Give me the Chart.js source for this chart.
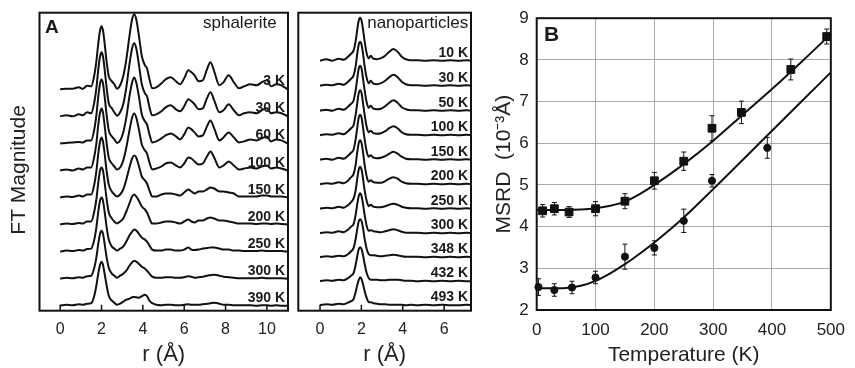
<!DOCTYPE html>
<html>
<head>
<meta charset="utf-8">
<script src="https://cdn.jsdelivr.net/npm/chart.js@4.4.1/dist/chart.umd.min.js"></script>
<style>
  html, body { margin: 0; padding: 0; background: #fff; }
  #fig { position: relative; width: 855px; height: 368px; overflow: hidden; }
  #fig canvas { position: absolute; top: 0; }
</style>
</head>
<body>
<div id="fig">
  <canvas id="ft-sph" width="293" height="368" style="left:0"></canvas>
  <canvas id="ft-nano" width="180" height="368" style="left:293px"></canvas>
  <canvas id="msrd" width="382" height="368" style="left:473px"></canvas>
</div>
<script>
/* FT magnitudes (stacked, arbitrary units) and MSRD vs temperature */

const FONT = '"Liberation Sans", Arial, Helvetica, sans-serif';

// ---- Panel A, sphalerite ------------------------------------------------
const R_SPH = [0, 0.3, 0.6, 0.9, 1.1, 1.3, 1.5, 1.65, 1.75, 1.85,
  1.93, 2.0, 2.07, 2.15, 2.25, 2.35, 2.5, 2.62, 2.75, 2.9,
  3.05, 3.2, 3.35, 3.48, 3.58, 3.68, 3.8, 3.95, 4.1, 4.2,
  4.32, 4.45, 4.65, 4.9, 5.1, 5.35, 5.6, 5.8, 6.0, 6.2,
  6.35, 6.5, 6.7, 6.9, 7.1, 7.27, 7.45, 7.7, 7.9, 8.15,
  8.4, 8.65, 8.9, 9.2, 9.5, 9.75, 10.0, 10.2, 10.45, 10.7, 11.0];
const SPH_LABELS  = ['3 K', '30 K', '60 K', '100 K', '150 K', '200 K', '250 K', '300 K', '390 K'];
const SPH_OFFSETS = [221.4, 194.4, 167.3, 140.2, 113.2, 86.2, 59.1, 32, 5];

const S_3K = [0, 0.5, 0.5, 2, 0.5, 3.5, 3, 14, 28, 47,
  59, 63, 59, 46, 27, 13, 8, 5, 0.5, 4,
  13, 30, 53, 70, 75, 70, 55, 33, 24, 21,
  10, 1, 2, 6, 10, 12, 8, 5, 11, 19,
  17, 14, 8, 9, 20, 27, 18, 4, 7, 14,
  7, 1, 3, 5, 4, 7, 9, 3, 5, 4, 0];
const S_30K = [0, 1, 0, 2, 1, 4, 3, 14, 28, 48,
  60, 64, 60, 47, 28, 13, 8, 4, 0.5, 4,
  12, 29, 52, 68, 73, 68, 53, 32, 23, 20,
  9, 1, 2, 5, 9, 11, 7, 5, 10, 17,
  15, 12, 7, 8, 18, 24, 16, 4, 6, 12,
  6, 1, 3, 4, 3, 6, 8, 3, 4, 3, 0];
const S_60K = [0, 0.5, 1, 1.5, 1, 3, 3, 14, 28, 48,
  60, 64, 60, 47, 28, 13, 7, 4, 0.5, 3,
  11, 26, 47, 61, 66, 61, 48, 29, 22, 19,
  9, 1, 2, 5, 8, 10, 7, 4, 9, 16,
  14, 11, 7, 8, 17, 23, 15, 3, 6, 11,
  6, 1, 2, 4, 3, 5, 7, 2, 4, 3, 0];
const S_100K = [0, 1, 0, 2, 1, 3, 3, 14, 27, 47,
  58, 62, 58, 45, 27, 13, 7, 4, 1, 3,
  10, 23, 40, 53, 57, 53, 42, 26, 20, 17,
  8, 1, 2, 4, 7, 8, 5, 3, 7, 13,
  12, 9, 6, 7, 14, 19, 13, 3, 5, 9,
  5, 1, 2, 3, 2, 4, 5, 2, 3, 2, 0];
const S_150K = [0, 1, 0.5, 2, 1, 3, 3, 13, 26, 45,
  56, 60, 56, 44, 26, 13, 6, 3, 1, 3,
  8, 18, 30, 39, 42, 40, 32, 21, 17, 14,
  7, 1, 1, 3, 4, 4, 3, 2, 5, 8,
  6, 4, 6, 6, 8, 10, 9, 6, 6, 5,
  4, 1, 1, 1, 1, 2, 2, 1, 1, 1, 0];
const S_200K = [0, 1, 0.5, 1.5, 1, 3, 3, 13, 25, 43,
  54, 57, 54, 42, 25, 12, 6, 3, 1, 3,
  6, 13, 21, 28, 30, 28, 24, 18, 15, 12,
  6, 1, 1, 2, 3, 3, 2, 1, 3, 5,
  3, 2, 4, 4, 6, 7, 6, 4, 4, 3,
  2, 1, 1, 1, 0.5, 1, 1, 0.5, 1, 0.5, 0];
const S_250K = [0, 1, 0.5, 1.5, 1, 2.5, 3, 12, 24, 41,
  51, 54, 51, 40, 24, 12, 5, 3, 1, 3,
  5, 10, 16, 20, 22, 21, 18, 14, 12, 10,
  6, 2, 1, 1, 2, 2, 1, 1, 2, 4,
  2, 1.5, 2, 3, 3.5, 4, 4, 3, 2, 2,
  1, 1, 0.5, 0.5, 0.5, 1, 0.5, 0.5, 0.5, 0.5, 0];
const S_300K = [0, 1, 0.5, 1.5, 1, 2.5, 3, 11, 21, 36,
  45, 48, 45, 35, 21, 11, 5, 3, 1, 3,
  5, 8, 13, 16.5, 18, 17, 15, 12, 10, 8,
  5, 2, 1, 1, 1.5, 1.5, 1, 1, 1.5, 2.5,
  2, 1, 1.5, 2, 3, 3.5, 4, 3, 2, 1.5,
  1, 0.5, 0.5, 0.5, 0.5, 1, 0.5, 0.5, 0.5, 0.5, 0];
const S_390K = [0, 1, 0.5, 1.5, 1, 2, 2.5, 10, 20, 33,
  41, 44, 41, 32, 20, 10, 5, 3, 1, 2,
  4, 6, 7, 8.5, 8.7, 8.5, 8, 9.5, 11, 9.5,
  5, 2.5, 1, 0.5, 1, 1, 0.5, 0.5, 1, 1.5,
  1, 1, 1, 1.5, 2, 2.5, 3, 2, 1, 1,
  0.5, 0.5, 0.5, 0.5, 0, 0.5, 0.5, 0, 0.5, 0, 0];
const SPH_CURVES = [S_3K, S_30K, S_60K, S_100K, S_150K, S_200K, S_250K, S_300K, S_390K];

// ---- Panel A, nanoparticles ---------------------------------------------
const R_NANO = [0, 0.3, 0.6, 0.9, 1.15, 1.35, 1.5, 1.62, 1.72, 1.8,
  1.87, 1.94, 2.01, 2.08, 2.16, 2.26, 2.36, 2.45, 2.58, 2.75,
  2.95, 3.15, 3.35, 3.55, 3.75, 3.95, 4.15, 4.4, 4.7, 5.1,
  5.5, 5.9, 6.3, 6.7, 7.1, 7.3];
const NANO_LABELS  = ['10 K', '30 K', '50 K', '100 K', '150 K', '200 K', '250 K', '300 K', '348 K', '432 K', '493 K'];
const NANO_OFFSETS = [250, 225, 200, 175.5, 151, 126.5, 102, 77.5, 53.5, 29.5, 5.5];

const N_10K = [0, 1.5, 0, 2, 1, 4, 7, 10, 19, 31,
  40, 43, 40, 31, 19, 7, 2.5, 5, 2, 1.5,
  2.5, 5, 9, 11.7, 9, 4, 1.5, 0.5, 0.5, 0,
  0.5, 0, 0.5, 0, 0.5, 0];
const N_30K = [0, 1, 0.5, 2, 1, 4, 7, 10, 19, 32,
  41, 44, 41, 32, 19, 7.5, 2.5, 5, 2, 1.5,
  2.5, 5, 8.5, 11, 8.5, 4, 1.5, 0.5, 0.5, 0,
  0.5, 0, 0.5, 0, 0.5, 0];
const N_50K = [0, 1, 0, 2, 1, 4, 7, 10, 20, 32,
  42, 45, 42, 32, 20, 8, 3, 5, 2, 1.5,
  2, 4.5, 8, 10.5, 8, 3.5, 1.5, 0.5, 0.5, 0,
  0.5, 0, 0.5, 0, 0.5, 0];
const N_100K = [0, 1, 0.5, 2, 1, 4, 7, 10, 20, 32,
  42, 45, 42, 32, 20, 8, 3, 4.5, 2, 1.5,
  2, 4, 7, 9, 7, 3, 1, 0.5, 0.5, 0,
  0.5, 0, 0.5, 0, 0.5, 0];
const N_150K = [0, 1, 0, 2, 1, 4, 7, 10, 20, 32,
  42, 45, 42, 32, 20, 8, 3, 4.5, 2, 1.5,
  2, 3.5, 6, 8, 6, 3, 1, 0.5, 0.5, 0,
  0.5, 0, 0.5, 0, 0.5, 0];
const N_200K = [0, 1, 0.5, 2, 1, 3.5, 7, 10, 19, 32,
  41, 44, 41, 32, 19, 7.5, 2.5, 4, 2, 1.5,
  1.5, 3, 5.5, 7, 5.5, 2.5, 1, 0.5, 0.5, 0,
  0.5, 0, 0.5, 0, 0.5, 0];
const N_250K = [0, 1, 0.5, 2, 1, 3.5, 6.5, 10, 18, 30,
  39, 42, 39, 30, 18, 7.5, 2.5, 4, 2, 1.5,
  1.5, 2.5, 4, 5, 4, 2, 1, 0.5, 0.5, 0,
  0.5, 0, 0.5, 0, 0.5, 0];
const N_300K = [0, 1, 0.5, 2, 1, 3.5, 6.5, 9, 18, 29,
  37, 40, 37, 29, 18, 7, 2.5, 3, 2, 1.5,
  1, 2, 3, 4, 3, 1.5, 0.5, 0.5, 0.5, 0,
  0.5, 0, 0.5, 0, 0.5, 0];
const N_348K = [0, 1, 0.5, 1.5, 1, 3, 6, 9, 18, 28,
  36, 38, 36, 29, 18, 8, 3, 2, 2, 1.5,
  1, 1.5, 2, 2.5, 2, 1, 0.5, 0.5, 0.5, 0,
  0.5, 0, 0.5, 0, 0.5, 0];
const N_432K = [0, 1, 0.5, 1.5, 1, 3, 5.5, 8, 16, 25,
  32, 34, 32, 26, 17, 8, 3, 1.5, 1.5, 1.5,
  1, 1, 1.5, 1.5, 1.5, 1, 0.5, 0.5, 0, 0.5,
  0, 0.5, 0, 0.5, 0, 0];
const N_493K = [0, 1, 0.5, 1.5, 1, 2.5, 4, 6, 13, 20,
  25, 28, 26, 21, 14, 7, 3, 3, 2, 1.5,
  1, 1, 0.5, 0.5, 0.5, 0.5, 0, 0.5, 0, 0.5,
  0, 0.5, 0, 0, 0.5, 0];
const NANO_CURVES = [N_10K, N_30K, N_50K, N_100K, N_150K, N_200K, N_250K, N_300K, N_348K, N_432K, N_493K];

const R_TICKS_SPH  = [0, 2, 4, 6, 8, 10];
const R_TICKS_NANO = [0, 2, 4, 6];

// ---- Panel B, MSRD ------------------------------------------------------
const SQ_T   = [10, 30, 55, 100, 150, 200, 250, 298, 348, 432, 493];
const SQ_MSRD = [4.38, 4.43, 4.35, 4.43, 4.61, 5.10, 5.57, 6.36, 6.74, 7.77, 8.56];
const SQ_ERR = [0.15, 0.15, 0.13, 0.17, 0.18, 0.2, 0.22, 0.3, 0.27, 0.25, 0.18];
const CI_T   = [3, 30, 60, 100, 150, 200, 250, 298, 392];
const CI_MSRD = [2.55, 2.48, 2.54, 2.78, 3.28, 3.49, 4.14, 5.10, 5.89];
const CI_ERR = [0.2, 0.15, 0.15, 0.15, 0.3, 0.17, 0.28, 0.15, 0.25];
const FIT_T  = [0, 25, 50, 75, 100, 125, 150, 175, 200, 250, 300, 350, 400, 450, 500];
const FIT_SQ = [4.4, 4.4, 4.4, 4.41, 4.44, 4.5, 4.6, 4.78, 5.0, 5.5, 6.06, 6.68, 7.3, 7.95, 8.62];
const FIT_CI = [2.52, 2.52, 2.53, 2.58, 2.7, 2.88, 3.1, 3.35, 3.62, 4.22, 4.9, 5.6, 6.3, 7.0, 7.7];

Chart.defaults.font.family = FONT;
Chart.defaults.color = '#222';

// frame round the plot area, optional inward ticks on the bottom axis
const framePlugin = {
  id: 'frame',
  afterDatasetsDraw(chart, args, o) {
    const { ctx, chartArea: a } = chart;
    ctx.save();
    ctx.strokeStyle = '#111';
    ctx.lineWidth = 2;
    ctx.strokeRect(a.left, a.top, a.right - a.left, a.bottom - a.top);
    if (o.tickLen) {
      const xs = chart.scales.x;
      ctx.lineWidth = 1.5;
      ctx.beginPath();
      xs.ticks.forEach(t => {
        const px = xs.getPixelForValue(t.value);
        ctx.moveTo(px, a.bottom);
        ctx.lineTo(px, a.bottom - o.tickLen);
      });
      ctx.stroke();
    }
    ctx.restore();
  }
};

// temperature labels over each trace + panel letter / name
const panelText = {
  id: 'panelText',
  afterDatasetsDraw(chart, args, o) {
    const { ctx, chartArea: a } = chart;
    const ys = chart.scales.y;
    ctx.save();
    ctx.fillStyle = '#1a1a1a';
    ctx.textBaseline = 'alphabetic';
    ctx.textAlign = 'right';
    ctx.font = 'bold 14px ' + FONT;
    (o.labels || []).forEach((t, i) => {
      ctx.fillText(t, a.right - o.labelInset, ys.getPixelForValue(o.offsets[i]) - 4);
    });
    if (o.name) {
      ctx.font = '17px ' + FONT;
      ctx.fillText(o.name, a.right - o.nameInset, a.top + 15);
    }
    if (o.letter) {
      ctx.textAlign = 'left';
      ctx.font = 'bold ' + o.letterSize + 'px ' + FONT;
      ctx.fillText(o.letter, a.left + o.letterDx, a.top + o.letterDy);
    }
    ctx.restore();
  }
};

const errorBars = {
  id: 'errorBars',
  beforeDatasetsDraw(chart) {
    const { ctx } = chart;
    const { x, y } = chart.scales;
    ctx.save();
    ctx.strokeStyle = '#111';
    ctx.lineWidth = 1;
    chart.data.datasets.forEach(ds => {
      if (!ds.errors) return;
      ds.data.forEach((p, i) => {
        const px = x.getPixelForValue(p.x);
        const hi = y.getPixelForValue(p.y + ds.errors[i]);
        const lo = y.getPixelForValue(p.y - ds.errors[i]);
        ctx.beginPath();
        ctx.moveTo(px, hi); ctx.lineTo(px, lo);
        ctx.moveTo(px - 2.5, hi); ctx.lineTo(px + 2.5, hi);
        ctx.moveTo(px - 2.5, lo); ctx.lineTo(px + 2.5, lo);
        ctx.stroke();
      });
    });
    ctx.restore();
  }
};

function stacked(grid, curves, offsets) {
  return curves.map((mag, k) => ({
    data: grid.map((r, i) => ({ x: r, y: offsets[k] + mag[i] })),
    borderColor: '#111',
    borderWidth: 2,
    pointRadius: 0,
    cubicInterpolationMode: 'monotone'
  }));
}

function ftChart(id, grid, curves, offsets, labels, cfg) {
  return new Chart(document.getElementById(id), {
    type: 'line',
    data: { datasets: stacked(grid, curves, offsets) },
    plugins: [framePlugin, panelText],
    options: {
      responsive: false,
      animation: false,
      devicePixelRatio: 1,
      layout: { padding: { left: cfg.padLeft, right: cfg.padRight, top: 12.7, bottom: 0 } },
      plugins: {
        legend: { display: false },
        tooltip: { enabled: false },
        frame: { tickLen: 6 },
        panelText: {
          labels, offsets,
          labelInset: 3,
          name: cfg.name, nameInset: cfg.nameInset,
          letter: cfg.letter, letterSize: 19, letterDx: 5.5, letterDy: 20.5
        }
      },
      scales: {
        x: {
          type: 'linear', min: cfg.xMin, max: cfg.xMax,
          afterBuildTicks: s => { s.ticks = cfg.ticks.map(v => ({ value: v })); },
          afterFit: s => { s.height = 57.3; },
          grid: { display: false, drawTicks: false },
          border: { display: false },
          ticks: { padding: 9.5, font: { size: 16 }, color: '#222' },
          title: { display: true, text: 'r (Å)', font: { size: 22 }, padding: 0, color: '#222' }
        },
        y: {
          type: 'linear', min: 0, max: 298,
          display: cfg.yTitle ? true : false,
          afterFit: s => { s.width = cfg.yWidth; },
          grid: { display: false, drawTicks: false },
          border: { display: false },
          ticks: { display: false },
          title: { display: !!cfg.yTitle, text: cfg.yTitle, font: { size: 21 }, padding: { top: 7, bottom: 0 }, color: '#222' }
        }
      }
    }
  });
}

// trailing en space nudges the rotated title a little lower, as in the original
ftChart('ft-sph', R_SPH, SPH_CURVES, SPH_OFFSETS, SPH_LABELS, {
  xMin: -1.0, xMax: 11.02, ticks: R_TICKS_SPH, padLeft: 0, padRight: 5, yWidth: 39.5,
  yTitle: 'FT Magnitude\u2002 ', name: 'sphalerite', nameInset: 11.3, letter: 'A'
});

ftChart('ft-nano', R_NANO, NANO_CURVES, NANO_OFFSETS, NANO_LABELS, {
  xMin: -1.05, xMax: 7.3, ticks: R_TICKS_NANO, padLeft: 5.3, padRight: 2, yWidth: 0,
  yTitle: null, name: 'nanoparticles', nameInset: 2.7, letter: null
});

const pts = (xs, ys) => xs.map((x, i) => ({ x, y: ys[i] }));

new Chart(document.getElementById('msrd'), {
  type: 'scatter',
  data: {
    datasets: [
      { data: pts(FIT_T, FIT_SQ), showLine: true, borderColor: '#111', borderWidth: 2, pointRadius: 0, cubicInterpolationMode: 'monotone' },
      { data: pts(FIT_T, FIT_CI), showLine: true, borderColor: '#111', borderWidth: 2, pointRadius: 0, cubicInterpolationMode: 'monotone' },
      { data: pts(SQ_T, SQ_MSRD), errors: SQ_ERR, pointStyle: 'rect', pointRadius: 5.5, backgroundColor: '#111', borderColor: '#111', borderWidth: 1, clip: false },
      { data: pts(CI_T, CI_MSRD), errors: CI_ERR, pointStyle: 'circle', pointRadius: 3.6, backgroundColor: '#111', borderColor: '#111', borderWidth: 1, clip: false }
    ]
  },
  plugins: [errorBars, framePlugin, panelText],
  options: {
    responsive: false,
    animation: false,
    devicePixelRatio: 1,
    layout: { padding: { left: 0, right: 17, top: 13, bottom: 0 } },
    plugins: {
      legend: { display: false },
      tooltip: { enabled: false },
      frame: { tickLen: 0 },
      panelText: { letter: 'B', letterSize: 21, letterDx: 7.3, letterDy: 23 }
    },
    scales: {
      x: {
        type: 'linear', min: 0, max: 500,
        ticks: { stepSize: 100, padding: 10, font: { size: 17 }, color: '#222' },
        afterFit: s => { s.height = 58; },
        grid: { color: '#aaaaaa', lineWidth: 1, drawTicks: false },
        border: { display: false },
        title: { display: true, text: 'Temperature (K)', font: { size: 21 }, padding: 0, color: '#222' }
      },
      y: {
        type: 'linear', min: 2, max: 9,
        ticks: { stepSize: 1, padding: 8, font: { size: 17 }, color: '#222' },
        afterFit: s => { s.width = 63.7; },
        grid: { color: '#aaaaaa', lineWidth: 1, drawTicks: false },
        border: { display: false },
        title: { display: true, text: 'MSRD  (10⁻³Å)', font: { size: 21 }, padding: { top: 19, bottom: 0 }, color: '#222' }
      }
    }
  }
});
</script>
</body>
</html>
